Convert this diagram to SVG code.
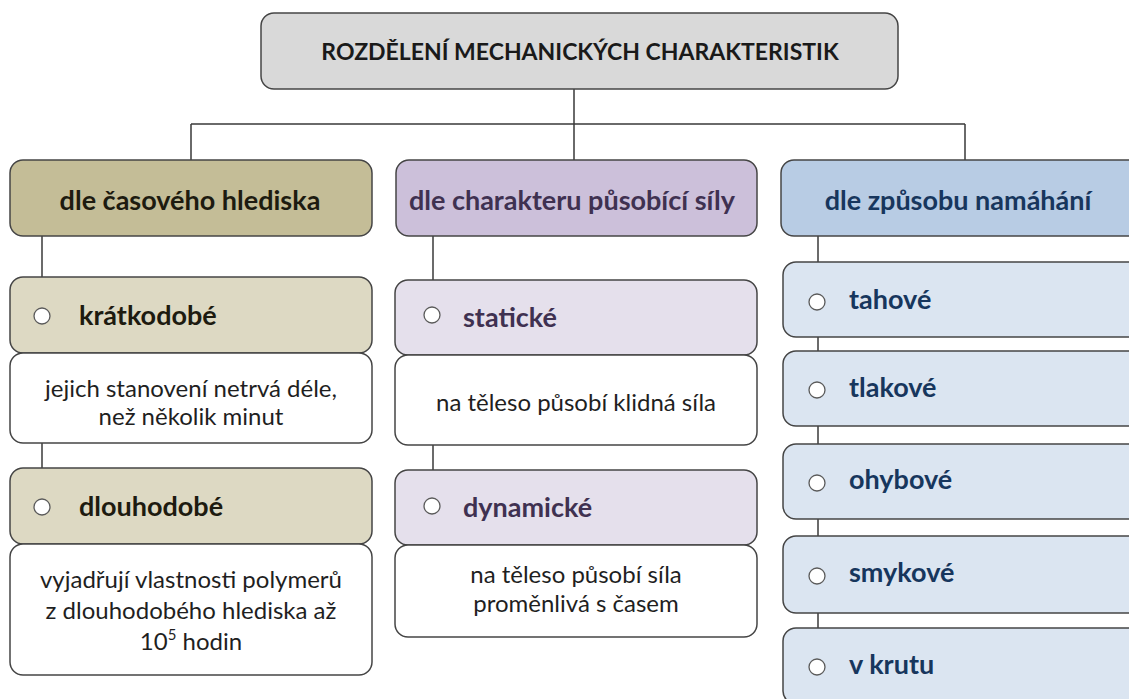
<svg xmlns="http://www.w3.org/2000/svg" width="1129" height="699" viewBox="0 0 1129 699">
<style>
.box{stroke:#454545;stroke-width:1.5}
.conn{stroke:#3a3a3a;stroke-width:1.5;fill:none}
.t{font-family:Lato,"Open Sans","Liberation Sans",sans-serif;font-weight:700}
.d{font-family:Lato,"Open Sans","Liberation Sans",sans-serif;font-weight:400;font-size:24px;fill:#1f1f1f;text-anchor:middle}
.title{font-size:23px;fill:#1a1a1a;text-anchor:middle}
.cat{font-size:27px;text-anchor:middle}
.item{font-size:27px}
.dot{fill:#ffffff;stroke:#5a5a5a;stroke-width:1.3}
.c1{fill:#1d1b10}.c2{fill:#3f3151}.c3{fill:#17365d}
</style>
<rect width="1129" height="699" fill="#ffffff"/>
<g id="connectors">
<path class="conn" d="M574 89 V160 M191 124 H965 M191 124 V160 M965 124 V160"/>
<path class="conn" d="M42 236 V468"/>
<path class="conn" d="M433 236 V470"/>
<path class="conn" d="M818 236 V640"/>
</g>
<g id="root">
<rect class="box" x="261" y="13" width="637" height="76" rx="13" fill="#d9d9d9"/>
<text class="t title" x="580" y="60">ROZDĚLENÍ MECHANICKÝCH CHARAKTERISTIK</text>
</g>
<g id="cat-casove">
<rect class="box" x="10" y="160" width="362" height="76" rx="13" fill="#c4bd97"/>
<text class="t cat c1" x="190" y="210">dle časového hlediska</text>
</g>
<g id="cat-sila">
<rect class="box" x="396" y="160" width="361" height="76" rx="13" fill="#ccc0da"/>
<text class="t cat c2" x="572" y="210">dle charakteru působící síly</text>
</g>
<g id="cat-namahani">
<rect class="box" x="781" y="160" width="368" height="76" rx="13" fill="#b8cce4"/>
<text class="t cat c3" x="958" y="210">dle způsobu namáhání</text>
</g>
<g id="item-kratkodobe">
<rect class="box" x="10" y="277" width="362" height="76" rx="13" fill="#ddd9c3"/>
<circle class="dot" cx="42" cy="316" r="8"/>
<text class="t item c1" x="79" y="325">krátkodobé</text>
</g>
<g id="desc-kratkodobe">
<rect class="box" x="10" y="353" width="362" height="90" rx="13" fill="#ffffff"/>
<text class="d" x="191" y="397">jejich stanovení netrvá déle,</text>
<text class="d" x="191" y="425">než několik minut</text>
</g>
<g id="item-dlouhodobe">
<rect class="box" x="10" y="468" width="362" height="76" rx="13" fill="#ddd9c3"/>
<circle class="dot" cx="42" cy="507" r="8"/>
<text class="t item c1" x="79" y="516">dlouhodobé</text>
</g>
<g id="desc-dlouhodobe">
<rect class="box" x="10" y="544" width="362" height="131" rx="13" fill="#ffffff"/>
<text class="d" x="191" y="588">vyjadřují vlastnosti polymerů</text>
<text class="d" x="191" y="619">z dlouhodobého hlediska až</text>
<text class="d" x="191" y="650">10<tspan font-size="15" dy="-10">5</tspan><tspan dy="10"> hodin</tspan></text>
</g>
<g id="item-staticke">
<rect class="box" x="395" y="280" width="362" height="75" rx="13" fill="#e5e0ec"/>
<circle class="dot" cx="432" cy="315" r="8"/>
<text class="t item c2" x="463" y="327">statické</text>
</g>
<g id="desc-staticke">
<rect class="box" x="395" y="355" width="362" height="90" rx="13" fill="#ffffff"/>
<text class="d" x="576" y="411">na těleso působí klidná síla</text>
</g>
<g id="item-dynamicke">
<rect class="box" x="395" y="470" width="362" height="75" rx="13" fill="#e5e0ec"/>
<circle class="dot" cx="432" cy="506" r="8"/>
<text class="t item c2" x="463" y="517">dynamické</text>
</g>
<g id="desc-dynamicke">
<rect class="box" x="395" y="545" width="362" height="92" rx="13" fill="#ffffff"/>
<text class="d" x="576" y="583">na těleso působí síla</text>
<text class="d" x="576" y="612">proměnlivá s časem</text>
</g>
<g id="item-tahove">
<rect class="box" x="783" y="262" width="366" height="75" rx="13" fill="#dbe5f1"/>
<circle class="dot" cx="817" cy="302" r="8"/>
<text class="t item c3" x="849" y="309">tahové</text>
</g>
<g id="item-tlakove">
<rect class="box" x="783" y="351" width="366" height="75" rx="13" fill="#dbe5f1"/>
<circle class="dot" cx="817" cy="390" r="8"/>
<text class="t item c3" x="849" y="397">tlakové</text>
</g>
<g id="item-ohybove">
<rect class="box" x="783" y="444" width="366" height="75" rx="13" fill="#dbe5f1"/>
<circle class="dot" cx="817" cy="483" r="8"/>
<text class="t item c3" x="849" y="489">ohybové</text>
</g>
<g id="item-smykove">
<rect class="box" x="783" y="536" width="366" height="77" rx="13" fill="#dbe5f1"/>
<circle class="dot" cx="817" cy="576" r="8"/>
<text class="t item c3" x="849" y="582">smykové</text>
</g>
<g id="item-vkrutu">
<rect class="box" x="783" y="628" width="366" height="76" rx="13" fill="#dbe5f1"/>
<circle class="dot" cx="817" cy="667" r="8"/>
<text class="t item c3" x="849" y="674">v krutu</text>
</g>
</svg>
